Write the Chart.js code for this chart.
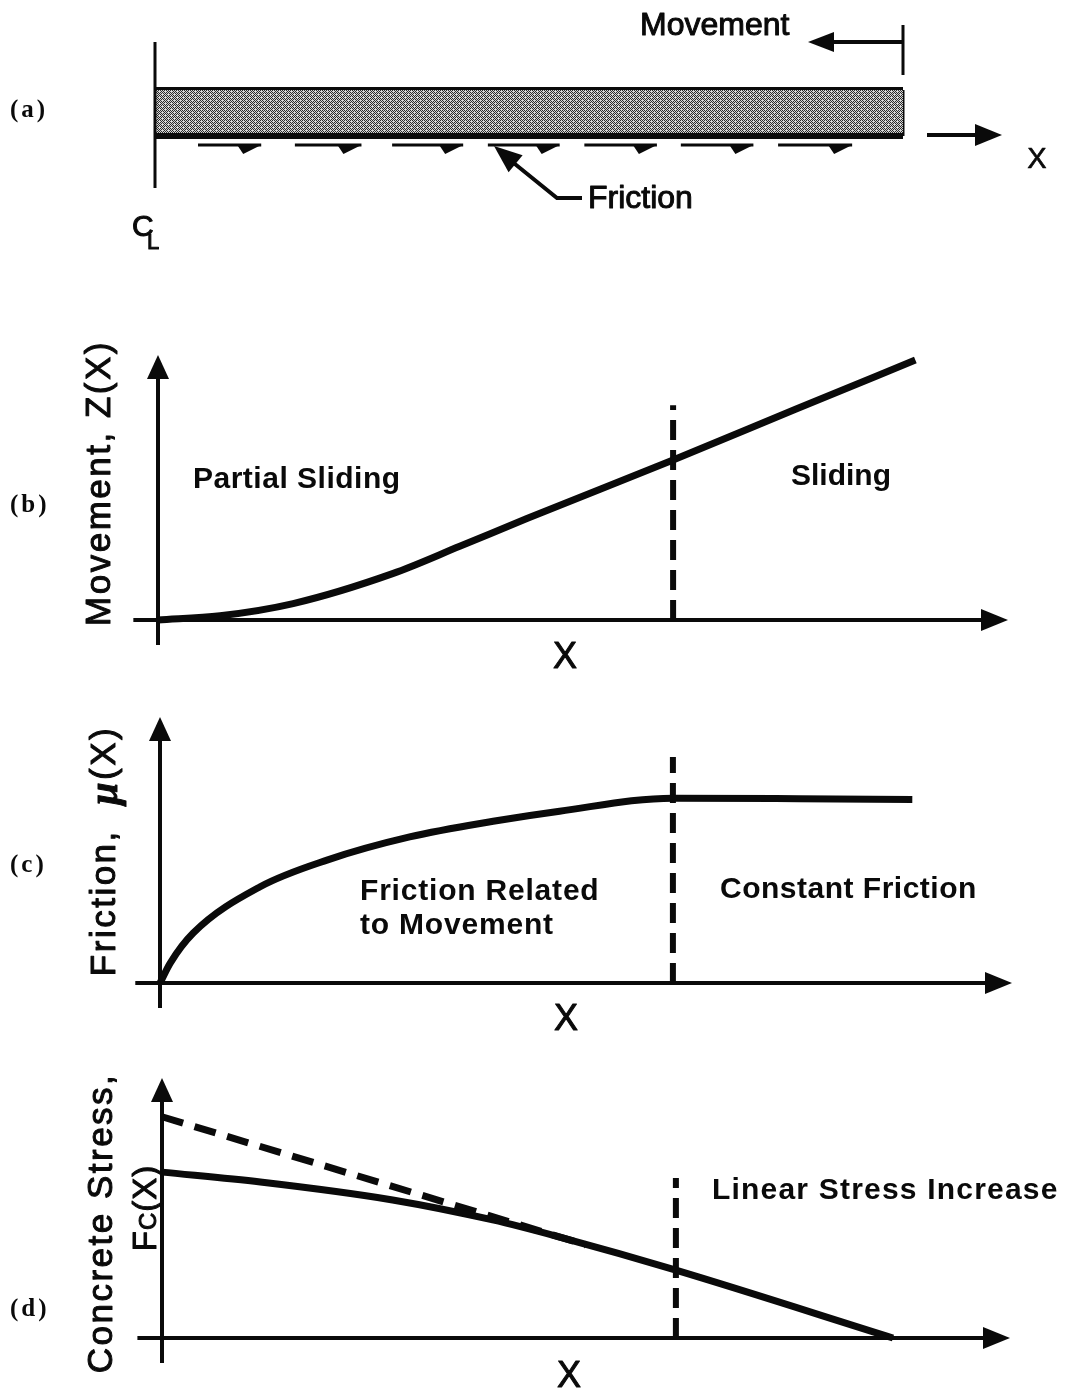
<!DOCTYPE html>
<html>
<head>
<meta charset="utf-8">
<script src="https://cdn.jsdelivr.net/npm/chart.js@4.4.1/dist/chart.umd.min.js"></script>
<style>
  html, body { margin: 0; padding: 0; background: #fff; }
  #wrap { position: relative; width: 1067px; height: 1392px; overflow: hidden; }
  canvas { position: absolute; left: 0; }
</style>
</head>
<body>
<div id="wrap">
  <canvas id="panelA"></canvas>
  <canvas id="panelB"></canvas>
  <canvas id="panelC"></canvas>
  <canvas id="panelD"></canvas>
</div>
<script>
// ---- data (x and y as % of each axis length, origin = 0) ----
// (b) movement Z(X)
const moveX = [0, 7.3, 15.9, 27.6, 35.5, 43.4, 60.6, 75, 89.1];
const moveY = [0, 1.6, 6.2, 17.5, 27.8, 38.3, 60.4, 79.5, 98.1];
// (c) friction mu(X)
const fricX = [0, 1.2, 3.9, 11.7, 19.6, 29.3, 39.1, 46.9, 60.2, 75, 88.3];
const fricY = [0, 7.5, 18.8, 36.1, 46.2, 54.9, 60.8, 64.6, 69.5, 69.3, 69.0];
// (d) concrete stress Fc(X) and the linear stress line
const stressX = [0, 11.6, 27.2, 39, 46.9, 60.5, 86.2];
const stressY = [63.8, 60, 53.1, 45.4, 38.8, 26.2, 0];
const linearX = [0, 50];
const linearY = [85.1, 35.8];
// sliding boundary for (b), (c), (d)
const boundaryX = [60.6, 60.2, 60.6];
const boundaryTop = [81, 85, 61.5];
// (a) slab (length 100, thickness 10) and friction arrows along it
const slabX = [0, 100];
const slabThick = 10;
const frictionStart = [5.75, 18.7, 31.7, 44.5, 57.4, 70.3, 83.3];
const frictionEnd = [14.2, 27.6, 41.2, 54.1, 67.1, 80.0, 93.2];

const INK = '#0a0a0a';
const SANS = '"Liberation Sans", Arial, sans-serif';
const SERIF = '"Liberation Serif", "Times New Roman", serif';

const pts = (xs, ys) => xs.map((x, i) => ({ x: x, y: ys[i] }));

function line(data, opts) {
  return Object.assign({
    data: data, showLine: true, borderColor: INK, borderWidth: 7,
    pointRadius: 0, fill: false, clip: false, borderCapStyle: 'butt'
  }, opts || {});
}

function head(ctx, x, y, ang, len, w) {
  ctx.save();
  ctx.translate(x, y);
  ctx.rotate(ang);
  ctx.beginPath();
  ctx.moveTo(0, 0);
  ctx.lineTo(-len, -w / 2);
  ctx.lineTo(-len, w / 2);
  ctx.closePath();
  ctx.fill();
  ctx.restore();
}

// text with an optional thin outline to thicken the strokes like the scan
function text(ctx, s, x, y, font, align, spacing, thick) {
  ctx.font = font;
  ctx.letterSpacing = (spacing || 0) + 'px';
  ctx.textAlign = align || 'left';
  ctx.textBaseline = 'alphabetic';
  ctx.fillText(s, x, y);
  if (thick) { ctx.lineWidth = thick; ctx.lineJoin = 'round'; ctx.strokeText(s, x, y); }
}

// vertical text reading bottom-to-top, parts = [[string, font, dy]]
function vtext(ctx, parts, baseX, centerY, spacing, thick) {
  ctx.save();
  ctx.letterSpacing = spacing + 'px';
  let total = 0;
  parts.forEach(p => { ctx.font = p[1]; total += ctx.measureText(p[0]).width; });
  ctx.translate(baseX, centerY);
  ctx.rotate(-Math.PI / 2);
  ctx.textAlign = 'left';
  ctx.textBaseline = 'alphabetic';
  ctx.lineWidth = thick || 0; ctx.lineJoin = 'round';
  let pos = -total / 2;
  parts.forEach(p => {
    ctx.font = p[1];
    ctx.fillText(p[0], pos, p[2] || 0);
    if (thick) ctx.strokeText(p[0], pos, p[2] || 0);
    pos += ctx.measureText(p[0]).width;
  });
  ctx.restore();
}

function drawAxes(chart, xFrom, yFrom) {
  const ctx = chart.ctx, sx = chart.scales.x, sy = chart.scales.y;
  const ox = sx.getPixelForValue(0), oy = sy.getPixelForValue(0);
  const xe = sx.getPixelForValue(100), ye = sy.getPixelForValue(100);
  ctx.save();
  ctx.strokeStyle = INK; ctx.fillStyle = INK; ctx.lineWidth = 4;
  ctx.beginPath();
  ctx.moveTo(sx.getPixelForValue(xFrom), oy); ctx.lineTo(xe - 20, oy);
  ctx.moveTo(ox, sy.getPixelForValue(yFrom)); ctx.lineTo(ox, ye + 18);
  ctx.stroke();
  head(ctx, xe, oy, 0, 27, 22);
  head(ctx, ox, ye, -Math.PI / 2, 24, 22);
  ctx.restore();
}

function panel(id, top, height, pad, yMax, datasets, under, over) {
  const cv = document.getElementById(id);
  cv.width = 1067; cv.height = height; cv.style.top = top + 'px';
  // "over" drawings use page coordinates
  const page = chart => {
    const ctx = chart.ctx;
    ctx.save();
    ctx.translate(0, -top);
    ctx.fillStyle = INK; ctx.strokeStyle = INK;
    over(chart, ctx, top);
    ctx.restore();
  };
  return new Chart(cv, {
    type: 'scatter',
    data: { datasets: datasets },
    options: {
      responsive: false, animation: false, devicePixelRatio: 1,
      layout: { padding: pad },
      scales: {
        x: { type: 'linear', min: 0, max: 100, display: false },
        y: { type: 'linear', min: 0, max: yMax, display: false }
      },
      plugins: { legend: { display: false }, tooltip: { enabled: false } }
    },
    plugins: [{ id: 'sketch', beforeDatasetsDraw: chart => under(chart), afterDatasetsDraw: page }]
  });
}

// slab texture
const tile = document.createElement('canvas');
tile.width = 6; tile.height = 6;
const tc = tile.getContext('2d');
tc.fillStyle = '#d4d4d4'; tc.fillRect(0, 0, 6, 6);
tc.fillStyle = '#2a2a2a';
for (let yy = 0; yy < 6; yy++) {
  for (let xx = 0; xx < 6; xx++) {
    if ((xx + yy) % 2 === 0 && !(xx === 3 && yy === 1) && !(xx === 0 && yy === 4)) tc.fillRect(xx, yy, 1, 1);
  }
}
const slabPattern = tc.createPattern(tile, 'repeat');

// ---- (a) slab with friction ----
panel('panelA', 0, 280, { left: 155, right: 164, top: 90, bottom: 144 }, slabThick, [
  line(pts(slabX, [0, 0]), { borderWidth: 6, fill: { value: slabThick }, backgroundColor: slabPattern }),
  line(pts(slabX, [slabThick, slabThick]), { borderWidth: 6 }),
  line(pts([100, 100], [0, slabThick]), { borderWidth: 3 })
], () => {}, (chart, ctx) => {
  const sx = chart.scales.x, sy = chart.scales.y;
  const x0 = sx.getPixelForValue(0), x1 = sx.getPixelForValue(100);
  const yb = sy.getPixelForValue(0);
  ctx.lineWidth = 3;
  ctx.beginPath();
  ctx.moveTo(x0, 42); ctx.lineTo(x0, 188);
  ctx.moveTo(x1, 25); ctx.lineTo(x1, 75);
  ctx.stroke();
  // movement arrow
  ctx.lineWidth = 4;
  ctx.beginPath(); ctx.moveTo(x1, 42); ctx.lineTo(828, 42); ctx.stroke();
  head(ctx, 808, 42, Math.PI, 26, 20);
  // X direction arrow
  ctx.beginPath(); ctx.moveTo(927, 135); ctx.lineTo(980, 135); ctx.stroke();
  head(ctx, 1002, 135, 0, 27, 22);
  // friction half arrows
  const fy = yb + 9;
  ctx.lineWidth = 3;
  frictionStart.forEach((s, i) => {
    const a = sx.getPixelForValue(s), b = sx.getPixelForValue(frictionEnd[i]);
    ctx.beginPath(); ctx.moveTo(a, fy); ctx.lineTo(b, fy); ctx.stroke();
    ctx.beginPath(); ctx.moveTo(b - 24, fy); ctx.lineTo(b, fy); ctx.lineTo(b - 18, fy + 9); ctx.closePath(); ctx.fill();
  });
  // leader to "Friction"
  ctx.lineWidth = 4;
  ctx.beginPath(); ctx.moveTo(582, 198); ctx.lineTo(557, 198); ctx.lineTo(510, 160); ctx.stroke();
  head(ctx, 494, 146, Math.atan2(146 - 198, 494 - 557), 28, 22);
  text(ctx, 'Movement', 640, 35, '32px ' + SANS, 'left', 0, 1);
  text(ctx, 'Friction', 588, 208, '32px ' + SANS, 'left', 0, 1);
  text(ctx, 'X', 1037, 168, '29px ' + SANS, 'center', 0, 0.6);
  text(ctx, '(a)', 10, 117, 'bold 25px ' + SERIF, 'left', 3);
  text(ctx, 'C', 132, 236, '30px ' + SANS, 'left', 0, 1);
  text(ctx, 'L', 147, 249, '22px ' + SANS, 'left', 0, 1);
});

// ---- (b) movement ----
panel('panelB', 280, 410, { left: 158, right: 59, top: 75, bottom: 70 }, 100, [
  line(pts(moveX, moveY), { cubicInterpolationMode: 'monotone' }),
  line(pts([boundaryX[0], boundaryX[0]], [0, boundaryTop[0]]), { borderWidth: 6, borderDash: [20, 10] })
], chart => drawAxes(chart, -2.9, -9.4), (chart, ctx) => {
  vtext(ctx, [['Movement, Z(X)', '35px ' + SANS]], 110, 483, 2.5, 1);
  text(ctx, 'Partial Sliding', 193, 488, 'bold 30px ' + SANS, 'left', 0.5);
  text(ctx, 'Sliding', 791, 485, 'bold 30px ' + SANS, 'left', 0);
  text(ctx, 'X', 565, 668, '36px ' + SANS, 'center', 0, 1);
  text(ctx, '(b)', 10, 512, 'bold 25px ' + SERIF, 'left', 3);
});

// ---- (c) friction ----
panel('panelC', 690, 360, { left: 160, right: 55, top: 27, bottom: 67 }, 100, [
  line(pts(fricX, fricY), { cubicInterpolationMode: 'monotone' }),
  line(pts([boundaryX[1], boundaryX[1]], [0, boundaryTop[1]]), { borderWidth: 6, borderDash: [20, 10] })
], chart => drawAxes(chart, -2.9, -9.4), (chart, ctx) => {
  vtext(ctx, [['Friction,  ', '35px ' + SANS], ['\u03bc', 'bold italic 40px ' + SERIF, 2], ['(X)', '35px ' + SANS]], 115, 851, 2.5, 1);
  text(ctx, 'Friction Related', 360, 900, 'bold 30px ' + SANS, 'left', 0.8);
  text(ctx, 'to Movement', 360, 934, 'bold 30px ' + SANS, 'left', 0.8);
  text(ctx, 'Constant Friction', 720, 898, 'bold 30px ' + SANS, 'left', 0.5);
  text(ctx, 'X', 566, 1030, '36px ' + SANS, 'center', 0, 1);
  text(ctx, '(c)', 10, 872, 'bold 25px ' + SERIF, 'left', 3);
});

// ---- (d) concrete stress ----
panel('panelD', 1050, 342, { left: 162, right: 57, top: 28, bottom: 54 }, 100, [
  line(pts(stressX, stressY), { cubicInterpolationMode: 'monotone' }),
  line(pts(linearX, linearY), { borderWidth: 7, borderDash: [22, 12] }),
  line(pts([boundaryX[2], boundaryX[2]], [0, boundaryTop[2]]), { borderWidth: 6, borderDash: [20, 10] })
], chart => drawAxes(chart, -2.9, -9.6), (chart, ctx) => {
  vtext(ctx, [['Concrete Stress,', '35px ' + SANS]], 112, 1223, 2.5, 1);
  vtext(ctx, [['F', '33px ' + SANS], ['C', '24px ' + SANS], ['(X)', '33px ' + SANS]], 156, 1208, 1, 1);
  text(ctx, 'Linear Stress Increase', 712, 1199, 'bold 30px ' + SANS, 'left', 1.2);
  text(ctx, 'X', 569, 1387, '36px ' + SANS, 'center', 0, 1);
  text(ctx, '(d)', 10, 1316, 'bold 25px ' + SERIF, 'left', 3);
});
</script>
</body>
</html>
